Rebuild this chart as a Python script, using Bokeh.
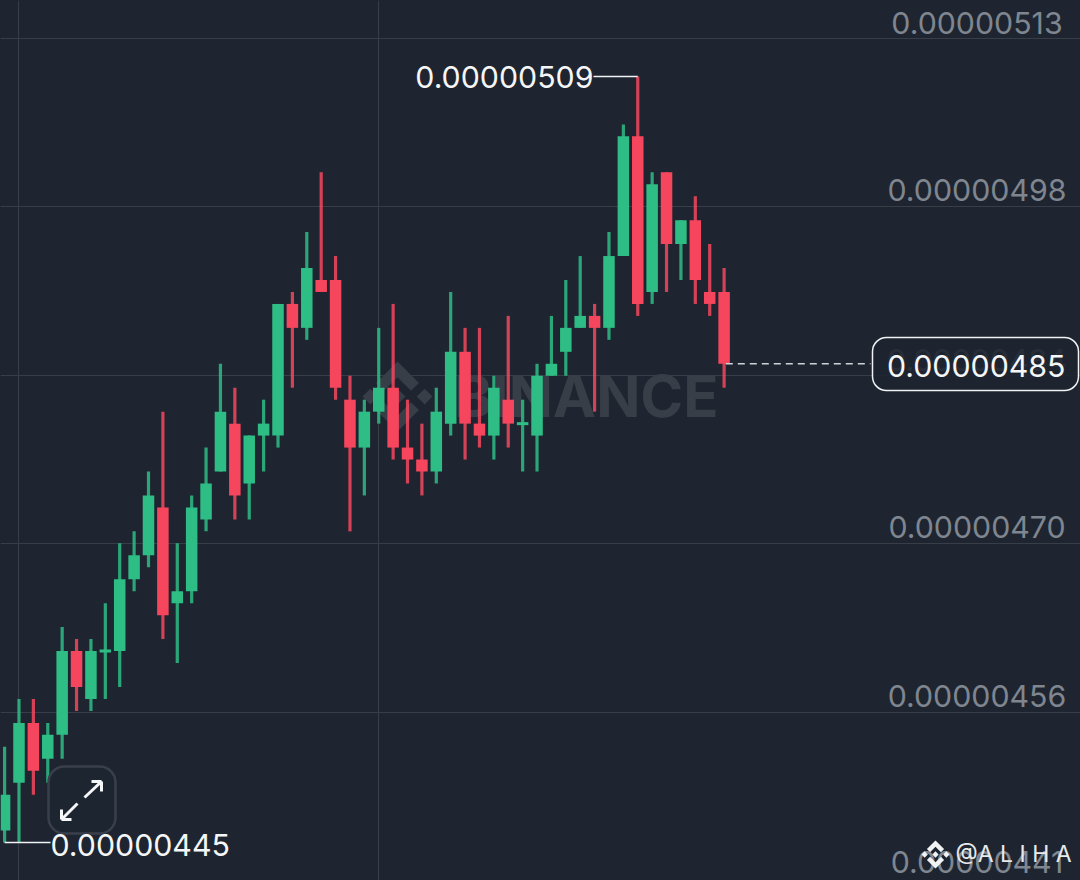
from bokeh.embed import file_html
from bokeh.resources import INLINE
from bokeh.plotting import figure
from bokeh.models import BoxAnnotation, FixedTicker, Grid
from bokeh.core.properties import value
import numpy as np

# prices in units of 0.00000001
opens  = [446,450,455,452,454,461,457,461,461,467,469,473,465,466,472,476,480,475,479,479,490,488,492,492,482,478,481,483,478,477,476,480,486,480,479,482,480,479,484,486,488,489,488,494,504,491,501,495,497,491,491]
highs  = [453,457,457,455,463,462,462,465,470,471,476,481,470,474,478,485,483,479,482,490,491,496,501,494,484,482,488,490,482,480,483,491,488,488,484,489,482,485,489,492,494,490,496,505,509,501,501,497,499,495,493]
lows   = [445,445,449,450,452,456,456,457,458,466,468,462,460,465,471,476,472,472,476,478,483,487,491,482,471,474,480,477,475,474,475,479,477,478,477,478,476,476,484,484,488,481,487,494,489,490,491,492,490,489,483]
closes = [449,455,451,454,461,458,461,461,467,469,474,464,466,473,475,481,474,479,480,490,488,493,491,483,478,481,483,478,477,476,481,486,480,479,483,480,480,484,485,488,489,488,494,504,490,500,495,497,492,490,485]
tick_prices = [512.17,498.14,484.02,469.99,455.87,441.83]
tick_labels = ["0.00000513","0.00000498","0.00000484","0.00000470","0.00000456","0.00000441"]
tick_offsets = [-16,-16,-16,-16,-16,-19]
vgrid_idx = [1,26]
last_label = "0.00000485"
handle = "@A L I H A"
brand = "BINANCE"

W,H = 1080,880
BG = "#1e2530"
GREEN,RED = "#2ebd85","#f6465d"
STEP,X0 = 14.39,4.1
PXU = 11.97
TOP = 509+76/PXU
def X(px): return (np.asarray(px,dtype=float)-X0)/STEP
def Y(py): return TOP-np.asarray(py,dtype=float)/PXU

p = figure(width=W,height=H,output_backend="svg",toolbar_location=None,
           x_range=(float(X(0)),float(X(W))),y_range=(float(Y(H)),float(Y(0))),
           x_axis_type=None,y_axis_type=None,min_border=0,
           background_fill_color=BG,border_fill_color=BG,outline_line_color=None)
p.grid.visible=False
GC="#383e48"
p.add_layout(Grid(dimension=0,ticker=FixedTicker(ticks=vgrid_idx),grid_line_color=GC,grid_line_width=1))
p.add_layout(Grid(dimension=1,ticker=FixedTicker(ticks=tick_prices),grid_line_color=GC,grid_line_width=1))

# logo shape on a 32-unit canvas
LOGO=[[(9.8,13.4),(16,7.2),(22.2,13.4),(25.8,9.8),(16,0),(6.2,9.8)],
      [(0,16),(3.6,12.4),(7.2,16),(3.6,19.6)],
      [(12.4,16),(16,12.4),(19.6,16),(16,19.6)],
      [(24.8,16),(28.4,12.4),(32,16),(28.4,19.6)],
      [(9.8,18.6),(16,24.8),(22.2,18.6),(25.8,22.2),(16,32),(6.2,22.2)]]
def logo(cx,cy,half,color,level="underlay"):
    s=half/16
    xs=[list(X([cx+(a-16)*s for a,_ in poly])) for poly in LOGO]
    ys=[list(Y([cy+(b-16)*s for _,b in poly])) for poly in LOGO]
    r=p.patches(xs,ys,fill_color=color,line_color=None)
    r.level=level

WM="#383e48"
logo(397,396,35,WM)
r=p.text([float(X(718))],[float(Y(395))],text=[brand],text_color=WM,text_font=value("Inter"),
       text_font_size="58px",text_font_style="bold",text_align="right",text_baseline="middle")
r.level="underlay"

# tick labels
FONT=value("Inter")
FS="30.3px"
p.text([float(X(976.5))]*6,tick_prices,text=tick_labels,y_offset=tick_offsets,text_color="#7f868f",
       text_font=FONT,text_font_size=FS,text_align="center",text_baseline="middle")

# candles
idx=np.arange(len(opens))
o,h,l,c=map(np.array,(opens,highs,lows,closes))
col=[GREEN if b>=a else RED for a,b in zip(opens,closes)]
p.segment(idx,l,idx,h,line_color=col,line_width=3.2,line_alpha=0.85,line_cap="butt")
p.vbar(idx,width=0.8,bottom=np.minimum(o,c),top=np.maximum(o,c),fill_color=col,line_color=None)
d=np.where(o==c)[0]
p.segment(d-0.4,o[d],d+0.4,o[d],line_color=GREEN,line_width=3,line_cap="butt")

# high / low callouts
hi=int(np.argmax(h)); lo=int(np.argmin(l))
p.segment([hi],[h[hi]],[float(X(593))],[h[hi]],line_color="#f0f2f4",line_width=1.5)
p.segment([lo],[l[lo]],[float(X(50))],[l[lo]],line_color="#f0f2f4",line_width=1.5)
p.text([float(X(593))],[h[hi]],text=[f"{h[hi]*1e-8:.8f}"],text_color="#f5f6f7",text_font=FONT,text_font_size=FS,
       text_align="right",text_baseline="middle")
t=p.text([float(X(50))],[l[lo]],text=[f"{l[lo]*1e-8:.8f}"],y_offset=[2],text_color="#f5f6f7",text_font=FONT,text_font_size=FS,
       text_align="left",text_baseline="middle")
t.level="overlay"

# last price
p.segment([idx[-1]+0.12],[c[-1]],[float(X(870))],[c[-1]],line_color="#cfd3d8",line_width=1.5,line_dash="7 5")
p.add_layout(BoxAnnotation(left=float(X(872)),right=float(X(1078)),top=float(Y(337)),bottom=float(Y(390)),
    fill_color=BG,fill_alpha=0.9,line_color="#f0f2f4",line_alpha=1,line_width=1.5,border_radius=14,level="annotation"))
t=p.text([float(X(1065))],[c[-1]],text=[last_label],y_offset=[2],text_color="#f5f6f7",text_font=FONT,text_font_size=FS,
       text_align="right",text_baseline="middle")
t.level="overlay"

# expand button
p.add_layout(BoxAnnotation(left=float(X(48)),right=float(X(115)),top=float(Y(766)),bottom=float(Y(833)),
    fill_color=BG,fill_alpha=0.75,line_color="#3a404b",line_alpha=1,line_width=2.5,border_radius=16,level="annotation"))
ax0=[[84,797],[91,781],[101,781],[77,803],[61,809],[61,819]]
ax1=[[101,781],[101,781],[101,791],[61,819],[61,819],[71,819]]
s=p.segment(X([a[0] for a in ax0]),Y([a[1] for a in ax0]),X([a[0] for a in ax1]),Y([a[1] for a in ax1]),
          line_color="#f5f6f7",line_width=3)
s.level="overlay"

# bottom-right handle
logo(935,854,14,"#f0f2f4","overlay")
t=p.text([float(X(955))],[float(Y(853))],text=[handle],text_color="#e8eaec",text_font=FONT,text_font_size="23px",
       text_align="left",text_baseline="middle")
t.level="overlay"

html=file_html(p,INLINE).replace("<head>","<head><style>html,body{margin:0;padding:0;background:#1e2530;overflow:hidden}</style>",1)
open("out.html","w").write(html)
